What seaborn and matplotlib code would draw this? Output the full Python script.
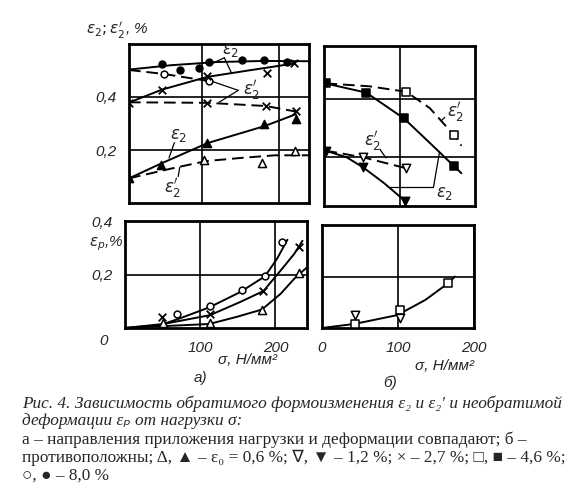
import matplotlib
matplotlib.use("Agg")
import matplotlib.pyplot as plt
import seaborn as sns

# ---- а) вверху: eps2 (сплошные) и eps2' (штриховые) ----
a_c8_x = [0, 60, 120, 180, 239]
a_c8_y = [0.502, 0.52, 0.532, 0.536, 0.535]
a_p8_x = [48, 71, 96, 109, 152, 181, 211]
a_p8_y = [0.523, 0.503, 0.51, 0.532, 0.538, 0.538, 0.532]
a_c8d_x = [5, 50, 109]
a_c8d_y = [0.502, 0.487, 0.46]
a_p8d_x = [50, 109]
a_p8d_y = [0.487, 0.459]

a_c27_x = [5, 48, 107, 160, 219]
a_c27_y = [0.379, 0.428, 0.476, 0.50, 0.526]
a_p27_x = [5, 48, 107, 184, 219]
a_p27_y = [0.379, 0.426, 0.481, 0.49, 0.528]
a_c27d_x = [5, 107, 183, 222]
a_c27d_y = [0.38, 0.378, 0.366, 0.345]
a_p27d_x = [107, 183, 222]
a_p27d_y = [0.379, 0.366, 0.347]

a_c06_x = [5, 46, 107, 181, 222]
a_c06_y = [0.093, 0.148, 0.226, 0.29, 0.335]
a_p06_x = [5, 46, 107, 181, 222]
a_p06_y = [0.093, 0.144, 0.226, 0.297, 0.316]
a_c06d_x = [5, 60, 105, 150, 195, 239]
a_c06d_y = [0.093, 0.13, 0.158, 0.17, 0.18, 0.18]
a_p06d_x = [103, 178, 221]
a_p06d_y = [0.163, 0.15, 0.197]

# ---- б) вверху ----
b_c46_x = [2, 56, 106, 140, 172, 182]
b_c46_y = [0.455, 0.423, 0.334, 0.25, 0.17, 0.145]
b_p46_x = [2, 56, 106, 172]
b_p46_y = [0.455, 0.423, 0.334, 0.17]
b_c46d_x = [2, 60, 109, 140, 172, 182]
b_c46d_y = [0.455, 0.445, 0.426, 0.37, 0.277, 0.24]
b_p46d_x = [109, 172]
b_p46d_y = [0.426, 0.277]

b_c12_x = [2, 30, 52, 80, 107]
b_c12_y = [0.223, 0.2, 0.165, 0.11, 0.05]
b_p12_x = [2, 52, 107]
b_p12_y = [0.223, 0.165, 0.05]
b_c12d_x = [2, 52, 109]
b_c12d_y = [0.223, 0.2, 0.162]
b_p12d_x = [52, 109]
b_p12d_y = [0.2, 0.162]

# ---- а) внизу: eps_p ----
ap_c8_x = [0, 47, 73, 112, 153, 186, 202, 216]
ap_c8_y = [0, 0.011, 0.036, 0.077, 0.134, 0.193, 0.258, 0.33]
ap_p8_x = [69, 113, 155, 186, 209]
ap_p8_y = [0.052, 0.081, 0.143, 0.193, 0.323]
ap_c27_x = [0, 51, 113, 153, 184, 207, 225, 236]
ap_c27_y = [0, 0.015, 0.048, 0.097, 0.138, 0.215, 0.277, 0.326]
ap_p27_x = [49, 113, 184, 231]
ap_p27_y = [0.042, 0.054, 0.138, 0.301]
ap_c06_x = [0, 51, 112, 149, 182, 207, 225, 242]
ap_c06_y = [0, 0.007, 0.015, 0.042, 0.069, 0.128, 0.184, 0.227]
ap_p06_x = [51, 113, 182, 231]
ap_p06_y = [0.017, 0.017, 0.069, 0.205]

# ---- б) внизу ----
bp_c_x = [0, 43, 99, 136, 166, 175]
bp_c_y = [0, 0.016, 0.05, 0.109, 0.174, 0.2]
bp_sq_x = [43, 103, 166]
bp_sq_y = [0.016, 0.07, 0.174]
bp_tri_x = [43, 103]
bp_tri_y = [0.05, 0.038]

sns.set_style("white")
plt.rcParams["font.family"] = ["Liberation Sans", "DejaVu Sans"]
plt.rcParams["mathtext.fontset"] = "dejavusans"

fig = plt.figure(figsize=(5.7, 5.0), dpi=100)
W, H = 570, 500


def px_axes(x0, y0, x1, y1):
    return fig.add_axes([x0 / W, 1 - y1 / H, (x1 - x0) / W, (y1 - y0) / H])


ax_a = px_axes(129, 44, 309, 203)
ax_b = px_axes(324, 46, 475, 206)
ax_ap = px_axes(125, 221, 307, 328)
ax_bp = px_axes(322, 225, 474, 328)


def curva(ax, x, y, ls="-"):
    sns.lineplot(x=x, y=y, ax=ax, color="black", lw=1.4, linestyle=ls,
                 sort=False, estimator=None, zorder=3)
    if ls != "-":
        ax.lines[-1].set_dashes((6, 3))


def puntos(ax, x, y, marker, lleno=True, s=24):
    if marker == "x":
        sns.scatterplot(x=x, y=y, ax=ax, marker="x", s=s, color="black",
                        linewidth=1.3, zorder=5)
    else:
        sns.scatterplot(x=x, y=y, ax=ax, marker=marker, s=s,
                        color="black" if lleno else "white",
                        edgecolor="black", linewidth=1.1, zorder=5)


def marco(ax, xlim, ylim, xt, yt):
    ax.set_xlim(*xlim)
    ax.set_ylim(*ylim)
    ax.set_xticks(xt)
    ax.set_yticks(yt)
    ax.grid(True, color="black", lw=1.2)
    ax.tick_params(length=0, labelleft=False, labelbottom=False)
    for sp in ax.spines.values():
        sp.set_linewidth(2)
        sp.set_color("black")
    ax.set_xlabel("")
    ax.set_ylabel("")


# а) вверху
curva(ax_a, a_c8_x, a_c8_y)
curva(ax_a, a_c8d_x, a_c8d_y, "--")
curva(ax_a, a_c27_x, a_c27_y)
curva(ax_a, a_c27d_x, a_c27d_y, "--")
curva(ax_a, a_c06_x, a_c06_y)
curva(ax_a, a_c06d_x, a_c06d_y, "--")
puntos(ax_a, a_p8_x, a_p8_y, "o")
puntos(ax_a, a_p8d_x, a_p8d_y, "o", False)
puntos(ax_a, a_p27_x, a_p27_y, "x", s=30)
puntos(ax_a, a_p27d_x, a_p27d_y, "x", s=30)
puntos(ax_a, a_p06_x, a_p06_y, "^", s=34)
puntos(ax_a, a_p06d_x, a_p06d_y, "^", False, s=34)
marco(ax_a, (5, 239), (0, 0.6), [100, 200], [0.2, 0.4])
ax_a.tick_params(labelleft=True, pad=9, labelsize=11)
ax_a.set_yticklabels(["0,2", "0,4"], style="italic")

# б) вверху
curva(ax_b, b_c46_x, b_c46_y)
curva(ax_b, b_c46d_x, b_c46d_y, "--")
curva(ax_b, b_c12_x, b_c12_y)
curva(ax_b, b_c12d_x, b_c12d_y, "--")
puntos(ax_b, b_p46_x, b_p46_y, "s", s=32)
puntos(ax_b, b_p46d_x, b_p46d_y, "s", False, s=32)
puntos(ax_b, b_p12_x, b_p12_y, "v", s=36)
puntos(ax_b, b_p12d_x, b_p12d_y, "v", False, s=36)
marco(ax_b, (0, 200), (0.032, 0.584), [100], [0.2, 0.4])

# а) внизу
curva(ax_ap, ap_c8_x, ap_c8_y)
curva(ax_ap, ap_c27_x, ap_c27_y)
curva(ax_ap, ap_c06_x, ap_c06_y)
puntos(ax_ap, ap_p8_x, ap_p8_y, "o", False)
puntos(ax_ap, ap_p27_x, ap_p27_y, "x", s=30)
puntos(ax_ap, ap_p06_x, ap_p06_y, "^", False, s=34)
marco(ax_ap, (0, 242), (0, 0.4), [100, 200], [0.2, 0.4])
ax_ap.tick_params(labelleft=True, labelbottom=True, pad=9, labelsize=11)
ax_ap.set_yticklabels(["0,2", "0,4"], style="italic")
ax_ap.set_xticklabels(["100", "200"], style="italic")

# б) внизу
curva(ax_bp, bp_c_x, bp_c_y)
puntos(ax_bp, bp_sq_x, bp_sq_y, "s", False, s=32)
puntos(ax_bp, bp_tri_x, bp_tri_y, "v", False, s=36)
marco(ax_bp, (0, 200), (0, 0.4), [0, 100, 200], [0.2, 0.4])
ax_bp.tick_params(labelbottom=True, pad=9, labelsize=11)
ax_bp.set_xticklabels(["0", "100", "200"], style="italic")

# подписи кривых
e2 = r"$\varepsilon_2$"
e2p = r"$\varepsilon_2'$"
fs = 12


def leader(ax, txt, tx, ty, pts):
    ax.text(tx, ty, txt, fontsize=fs, ha="center", va="center", zorder=6)
    for (x0, y0, x1, y1) in pts:
        ax.plot([x0, x1], [y0, y1], color="black", lw=0.9, zorder=4)


leader(ax_a, e2, 137, 0.575, [(129, 0.548, 114, 0.528), (129, 0.548, 138, 0.492)])
leader(ax_a, e2p, 165, 0.425, [(147, 0.425, 112, 0.46), (147, 0.425, 122, 0.38)])
leader(ax_a, e2, 70, 0.255, [(64, 0.228, 57, 0.17)])
leader(ax_a, e2p, 62, 0.055, [(69, 0.1, 71, 0.135)])
leader(ax_b, e2p, 174, 0.358, [(160, 0.338, 156, 0.328)])
leader(ax_b, e2p, 64, 0.255, [(74, 0.228, 82, 0.198)])
leader(ax_b, e2, 160, 0.075, [(145, 0.097, 153, 0.218), (145, 0.097, 88, 0.097)])

# подписи осей
tkw = dict(fontsize=11, style="italic", ha="center", va="center")
fig.text(117 / W, 1 - 30 / H, r"$\varepsilon_2;\varepsilon_2'$, %", **tkw)
fig.text(106 / W, 1 - 244 / H, r"$\varepsilon_p$,%", **tkw)
fig.text(104 / W, 1 - 341 / H, "0", **tkw)
fig.text(248 / W, 1 - 360 / H, "σ, Н/мм²", **tkw)
fig.text(445 / W, 1 - 366 / H, "σ, Н/мм²", **tkw)
fig.text(200 / W, 1 - 378 / H, "а)", **tkw)
fig.text(390 / W, 1 - 383 / H, "б)", **tkw)

# подрисуночная подпись
ckw = dict(fontsize=12.4, ha="left", va="center", family=["Liberation Serif", "DejaVu Sans"])
fig.text(22 / W, 1 - 404 / H, "Рис. 4. Зависимость обратимого формоизменения ε₂ и ε₂′ и необратимой",
         style="italic", **ckw)
fig.text(22 / W, 1 - 421 / H, "деформации εₚ от нагрузки σ:", style="italic", **ckw)
fig.text(22 / W, 1 - 440 / H, "а – направления приложения нагрузки и деформации совпадают; б –", **ckw)
fig.text(22 / W, 1 - 458 / H, "противоположны; Δ, ▲ – ε₀ = 0,6 %; ∇, ▼ – 1,2 %; × – 2,7 %; □, ■ – 4,6 %;", **ckw)
fig.text(22 / W, 1 - 476 / H, "○, ● – 8,0 %", **ckw)

fig.savefig("out.png", dpi=100)
